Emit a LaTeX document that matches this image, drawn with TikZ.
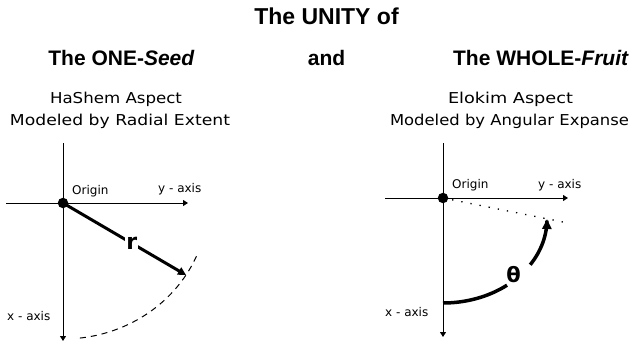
\documentclass[tikz,border=0pt]{standalone}
\usepackage{fontspec}
\usepackage{graphicx}
\usetikzlibrary{arrows.meta}
\newfontfamily\hdfont{Liberation Sans}
\newfontfamily\lbfont{DejaVu Sans}
\newcommand{\fitw}[2]{\resizebox{#1}{\height}{#2}}
\tikzset{
  hd/.style={inner sep=0pt, anchor=base, font=\hdfont\bfseries\fontsize{21}{24}\selectfont},
  sub/.style={inner sep=0pt, anchor=base, font=\lbfont\fontsize{15}{18}\selectfont},
  lab/.style={inner sep=0pt, anchor=base west, font=\lbfont\fontsize{12}{14}\selectfont},
  axis/.style={line width=1pt, -{Triangle[length=5pt,width=6pt]}},
  thickarrow/.style={line width=3pt, -{Triangle[length=8pt,width=8pt]}},
  dot/.style={circle, fill=black, inner sep=0pt, minimum size=10.5pt},
}
\begin{document}
\begin{tikzpicture}[x=1pt, y=-1pt]
\useasboundingbox (0,0) rectangle (632,342);
% headings
\node[hd, font=\hdfont\bfseries\fontsize{23}{26}\selectfont] (title) at (326.5,25) {The UNITY of};
\node[hd] (seed) at (121.5,66) {The ONE-\textit{Seed}};
\node[hd] (and) at (326.5,66) {and};
\node[hd] (fruit) at (541,66) {The WHOLE-\textit{Fruit}};
\node[sub] (hashem) at (116,104) {\fitw{132pt}{HaShem Aspect}};
\node[sub] (radial) at (120,125.5) {\fitw{220pt}{Modeled by Radial Extent}};
\node[sub] (elokim) at (510.5,104) {\fitw{125pt}{Elokim Aspect}};
\node[sub] (angular) at (509.5,125.5) {\fitw{239pt}{Modeled by Angular Expanse}};

% ---------- left diagram ----------
\coordinate (LO) at (63,203);
\coordinate (Ltop) at (63,143);
\coordinate (Lbot) at (63,341);
\coordinate (Lleft) at (6,203);
\coordinate (Lright) at (188,203);
\coordinate (Ltip) at (186,275);
\draw[line width=1pt] (LO) -- (Ltop);
\draw[axis] (LO) -- (Lbot);
\draw[line width=1pt] (Lleft) -- (LO);
\draw[axis] (LO) -- (Lright);
\draw[line width=1pt, dash pattern=on 6pt off 5pt]
  plot[domain=23:84, samples=40] ({63+145*cos(\x)},{203+136*sin(\x)});
\draw[thickarrow] (LO) -- node[pos=0.56, fill=white, inner sep=1pt,
  font=\lbfont\bfseries\fontsize{22}{24}\selectfont] (rlab) {r} (Ltip);
\node[dot] (Ldot) at (LO) {};
\node[lab] (Lorigin) at (72,194) {Origin};
\node[lab] (Lyaxis) at (158,193) {y - axis};
\node[lab] (Lxaxis) at (7,320) {x - axis};

% ---------- right diagram ----------
\coordinate (RO) at (443,198);
\coordinate (Rtop) at (443,143);
\coordinate (Rbot) at (443,337);
\coordinate (Rleft) at (385,198);
\coordinate (Rright) at (568,198);
\coordinate (Rdotend) at (568,223);
\draw[line width=1pt] (RO) -- (Rtop);
\draw[axis] (RO) -- (Rbot);
\draw[line width=1pt] (Rleft) -- (RO);
\draw[axis] (RO) -- (Rright);
\draw[line width=1.3pt, dash pattern=on 1.3pt off 8pt] (RO) -- (Rdotend);
\draw[line width=3.5pt]
  plot[domain=90:52, samples=30] ({443+104*cos(\x)},{219+84*sin(\x)});
\draw[line width=3.5pt, -{Triangle[length=10pt,width=9pt]}]
  plot[domain=33:0, samples=30] ({443+104*cos(\x)},{219+84*sin(\x)});
\node[inner sep=0pt, font=\lbfont\bfseries\fontsize{21}{24}\selectfont] (theta) at (513.5,275) {θ};
\node[dot] (Rdot) at (RO) {};
\node[lab] (Rorigin) at (452,189) {Origin};
\node[lab] (Ryaxis) at (538,189) {y - axis};
\node[lab] (Rxaxis) at (385,316) {x - axis};
\end{tikzpicture}
\end{document}
